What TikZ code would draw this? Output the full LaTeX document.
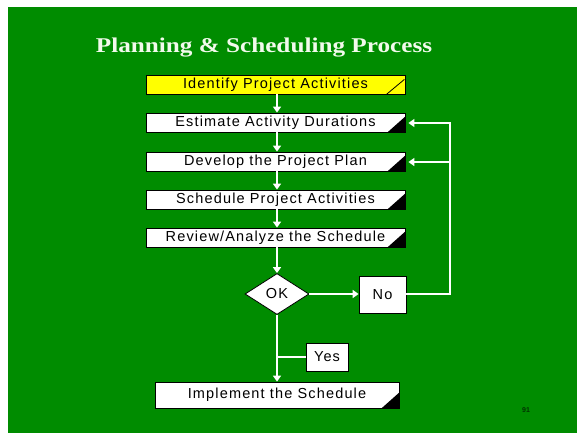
\documentclass[tikz,border=0pt]{standalone}
\usepackage{fontspec}
\setmainfont{Liberation Sans}
\newfontfamily\boxfont[LetterSpace=8]{Liberation Sans}
\newfontfamily\titlefont{Liberation Serif}
\usetikzlibrary{arrows.meta,shapes.geometric}
\definecolor{slidegreen}{RGB}{0,140,0}
\definecolor{titlewhite}{RGB}{242,250,236}
\definecolor{boxyellow}{RGB}{255,255,0}
\definecolor{pagenum}{RGB}{0,50,0}

\begin{document}
\begin{tikzpicture}[x=1pt,y=-1pt,
  stepbox/.style={draw=black, line width=0.8pt, fill=white, text=black,
    minimum width=259pt, minimum height=19pt, inner sep=0pt,
    font=\boxfont\fontsize{14.5}{16}\selectfont},
  smallbox/.style={draw=black, line width=0.8pt, fill=white, text=black,
    inner sep=0pt, font=\boxfont\fontsize{14.5}{16}\selectfont},
  flowline/.style={draw=white, line width=2.3pt},
  flow/.style={flowline, -{Triangle[width=8pt,length=6pt]}},
]
\useasboundingbox (0,0) rectangle (577,433);
\fill[white] (0,0) rectangle (577,433);
\fill[slidegreen] (8,7) rectangle (577,433);

% title
\node[text=titlewhite, font=\titlefont\bfseries\fontsize{21}{24}\selectfont, anchor=base]
  (title) at (264,53) {\scalebox{1.2}[1]{Planning \& Scheduling Process}};

% process steps
\node[stepbox, fill=boxyellow] (ident) at (275.5,84.5) {Identify Project Activities};
\node[stepbox] (est)   at (275.5,122.5) {Estimate Activity Durations};
\node[stepbox] (dev)   at (275.5,161.5) {Develop the Project Plan};
\node[stepbox] (sched) at (275.5,199.5) {Schedule Project Activities};
\node[stepbox] (rev)   at (275.5,237.5) {Review/Analyze the Schedule};
\node[stepbox, minimum width=244pt, minimum height=26pt] (impl) at (277,395) {Implement the Schedule};

% corner marks
\draw[black, line width=0.8pt] (ident.south east) ++(-19,0) -- ++(18,-15);
\foreach \b in {est,dev,sched,rev,impl}
  \fill[black] (\b.south east) -- ++(-18,0) -- ++(18,-16) -- cycle;

% decision and outcomes
\node[diamond, draw=black, line width=0.8pt, fill=white, text=black,
  minimum width=64pt, minimum height=41pt, inner sep=0pt, aspect=1.56,
  font=\boxfont\fontsize{14.5}{16}\selectfont] (ok) at (277,294) {OK};
\node[smallbox, minimum width=47pt, minimum height=37pt] (no) at (382.5,294.5) {No};
\node[smallbox, minimum width=42pt, minimum height=28pt] (yes) at (327,357) {Yes};

% page number
\node[text=pagenum, font=\bfseries\fontsize{7}{8}\selectfont] (pg) at (526,410) {91};

% main flow
\draw[flow] (ident.south -| 277,0) -- (est.north -| 277,0);
\draw[flow] (est.south -| 277,0) -- (dev.north -| 277,0);
\draw[flow] (dev.south -| 277,0) -- (sched.north -| 277,0);
\draw[flow] (sched.south -| 277,0) -- (rev.north -| 277,0);
\draw[flow] (rev.south -| 277,0) -- (ok.north);
\draw[flow] (ok.east) -- (no.west |- ok.east);
\draw[flow] (ok.south) -- (impl.north);

% yes branch
\coordinate (ybr) at (277,357);
\draw[flowline] (ybr) -- (yes.west);

% feedback loop
\coordinate (rtop) at (450,123);
\coordinate (rmid) at (450,162);
\draw[flowline, line cap=rect] (no.east |- ok.east) -| (rtop);
\draw[flow, shorten >=3pt] (rtop) -- (rtop -| est.east);
\draw[flow, shorten >=3pt] (rmid) -- (rmid -| dev.east);
\end{tikzpicture}
\end{document}
